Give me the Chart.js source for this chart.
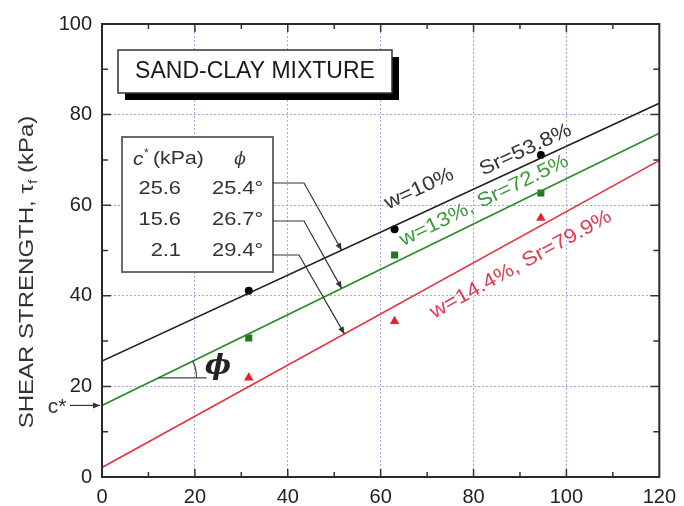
<!DOCTYPE html>
<html><head><meta charset="utf-8">
<script src="https://cdn.jsdelivr.net/npm/chart.js@4"></script>
<style>html,body{margin:0;padding:0;background:#fff;}</style>
</head><body>
<canvas id="c" width="684" height="506"></canvas>
<script>
// ---- data ----
const normalStress = [31.6, 63.0, 94.5];
const tauW10  = [41.1, 54.7, 71.1];
const tauW13  = [30.7, 49.0, 62.7];
const tauW144 = [21.9, 34.4, 57.2];
const fitX    = [0, 120];
const fitW10  = [25.6, 82.5];
const fitW13  = [15.8, 75.9];
const fitW144 = [2.1, 69.9];
const xTickValues = [0, 20, 40, 60, 80, 100, 120];
const yTickValues = [0, 20, 40, 60, 80, 100];
const cohesion = ['25.6', '15.6', '2.1'];
const frictionAngle = ['25.4°', '26.7°', '29.4°'];
const boxTitle = 'SAND-CLAY MIXTURE';
const yTitle = ['SHEAR STRENGTH, τ', 'f', ' (kPa)'];
const seriesLabels = ['w=10%', 'Sr=53.8%', 'w=13%, Sr=72.5%', 'w=14.4%, Sr=79.9%'];

const BLACK = '#1e1e1e', GREEN = '#2a8c2a', RED = '#e8303f';
const FONT = '"Liberation Sans", Arial, sans-serif';
const pts = (xs, ys) => xs.map((x, i) => ({x, y: ys[i]}));

function txt(ctx, s, x, y, o) {
  o = o || {};
  ctx.save();
  ctx.translate(x, y);
  if (o.rot) ctx.rotate(o.rot);
  ctx.scale(o.sx || 1, 1);
  ctx.font = o.font || ('20px ' + FONT);
  ctx.fillStyle = o.color || BLACK;
  ctx.textAlign = o.align || 'center';
  ctx.textBaseline = o.baseline || 'middle';
  ctx.fillText(s, 0, 0);
  ctx.restore();
}
function arrow(ctx, pts, color) {
  ctx.save();
  ctx.strokeStyle = color || '#333'; ctx.fillStyle = color || '#333';
  ctx.lineWidth = 1.2;
  ctx.beginPath();
  ctx.moveTo(pts[0][0], pts[0][1]);
  for (let i = 1; i < pts.length; i++) ctx.lineTo(pts[i][0], pts[i][1]);
  ctx.stroke();
  const a = pts[pts.length - 2], b = pts[pts.length - 1];
  const ang = Math.atan2(b[1] - a[1], b[0] - a[0]);
  const L = 7, W = 3;
  ctx.beginPath();
  ctx.moveTo(b[0], b[1]);
  ctx.lineTo(b[0] - L * Math.cos(ang) + W * Math.sin(ang), b[1] - L * Math.sin(ang) - W * Math.cos(ang));
  ctx.lineTo(b[0] - L * Math.cos(ang) - W * Math.sin(ang), b[1] - L * Math.sin(ang) + W * Math.cos(ang));
  ctx.closePath(); ctx.fill();
  ctx.restore();
}

const deco = {
  id: 'deco',
  afterDraw(chart) {
    const ctx = chart.ctx, xs = chart.scales.x, ys = chart.scales.y, a = chart.chartArea;
    const X = v => xs.getPixelForValue(v), Y = v => ys.getPixelForValue(v);
    ctx.save();
    // inward ticks on all four sides
    ctx.strokeStyle = '#333'; ctx.lineWidth = 1.5;
    for (let v = 10; v < 120; v += 10) {
      const L = v % 20 === 0 ? 8 : 5, px = X(v);
      ctx.beginPath();
      ctx.moveTo(px, a.bottom); ctx.lineTo(px, a.bottom - L);
      ctx.moveTo(px, a.top); ctx.lineTo(px, a.top + L);
      ctx.stroke();
    }
    for (let v = 10; v < 100; v += 10) {
      const L = v % 20 === 0 ? 9 : 6, py = Y(v);
      ctx.beginPath();
      ctx.moveTo(a.left, py); ctx.lineTo(a.left + L, py);
      ctx.moveTo(a.right, py); ctx.lineTo(a.right - L, py);
      ctx.stroke();
    }
    // frame
    ctx.lineWidth = 2; ctx.strokeStyle = '#2a2a2a';
    ctx.strokeRect(a.left, a.top, a.right - a.left, a.bottom - a.top);

    // title box with shadow
    ctx.fillStyle = '#000';
    ctx.fillRect(125, 57, 274, 43);
    ctx.fillStyle = '#fff';
    ctx.fillRect(118, 50, 274, 43);
    ctx.lineWidth = 1.5; ctx.strokeStyle = '#333';
    ctx.strokeRect(118, 50, 274, 43);
    txt(ctx, boxTitle, 255, 72, {font: '23px ' + FONT, color: '#1a1a1a'});

    // parameter table
    ctx.fillStyle = '#fff';
    ctx.fillRect(122, 137, 151, 135);
    ctx.lineWidth = 2; ctx.strokeStyle = '#6a6a6a';
    ctx.strokeRect(122, 137, 151, 135);
    txt(ctx, 'c', 133, 160, {font: 'italic 19px ' + FONT, align: 'left', sx: 1.1, color: '#333'});
    txt(ctx, '*', 144, 154, {font: '12px ' + FONT, align: 'left', color: '#333'});
    txt(ctx, '(kPa)', 153, 159, {font: '19px ' + FONT, align: 'left', sx: 1.12, color: '#333'});
    txt(ctx, 'ϕ', 240, 160, {font: 'italic 17px "DejaVu Serif", serif', color: '#333'});
    const rowY = [189, 220, 251];
    rowY.forEach((ry, i) => {
      txt(ctx, cohesion[i], 181, ry, {font: '19px ' + FONT, align: 'right', sx: 1.15, color: '#333'});
      txt(ctx, frictionAngle[i], 212, ry, {font: '19px ' + FONT, align: 'left', sx: 1.15, color: '#333'});
    });

    // arrows from table to fit lines
    arrow(ctx, [[273, 183], [304, 183], [X(51.6), Y(fitW10[0] + (fitW10[1] - fitW10[0]) * 51.6 / 120)]]);
    arrow(ctx, [[273, 221], [304, 221], [X(51.6), Y(fitW13[0] + (fitW13[1] - fitW13[0]) * 51.6 / 120)]]);
    arrow(ctx, [[273, 255], [299, 255], [X(52.2), Y(fitW144[0] + (fitW144[1] - fitW144[0]) * 52.2 / 120)]]);

    // phi angle marker on the green line
    const yA = 21.9;
    const xA = (yA - fitW13[0]) / ((fitW13[1] - fitW13[0]) / 120);
    const p0x = X(xA), p0y = Y(yA);
    ctx.strokeStyle = '#444'; ctx.lineWidth = 1.2;
    ctx.beginPath(); ctx.moveTo(p0x, p0y); ctx.lineTo(X(22.5), p0y); ctx.stroke();
    const angG = Math.atan2(Y(fitW13[1]) - Y(fitW13[0]), X(120) - X(0));
    ctx.beginPath(); ctx.arc(p0x, p0y, 38, angG, 0); ctx.stroke();
    txt(ctx, 'ϕ', 218, 367, {font: 'italic bold 28px "DejaVu Serif", serif', color: '#222'});

    // c* marker at the left axis
    txt(ctx, 'c*', 57, 407, {font: '20px ' + FONT, color: '#333', sx: 1.05});
    arrow(ctx, [[70, Y(fitW13[0])], [a.left - 2, Y(fitW13[0])]], '#333');

    // rotated series labels
    const ang = (f) => Math.atan2(Y(f[1]) - Y(f[0]), X(120) - X(0));
    const lf = '20px ' + FONT;
    txt(ctx, seriesLabels[0], X(68.3), Y(63.6), {font: lf, rot: ang(fitW10), sx: 1.12, color: '#333'});
    txt(ctx, seriesLabels[1], X(91.2), Y(72.2), {font: lf, rot: ang(fitW10), sx: 1.12, color: '#333'});
    txt(ctx, seriesLabels[2], X(82.3), Y(61.0), {font: lf, rot: ang(fitW13), sx: 1.12, color: '#3a9a3a'});
    txt(ctx, seriesLabels[3], X(90.2), Y(46.9), {font: lf, rot: ang(fitW144), sx: 1.12, color: '#e03a50'});

    // y-axis title with subscript
    ctx.save();
    ctx.translate(27, 272); ctx.rotate(-Math.PI / 2); ctx.scale(1.2, 1);
    ctx.fillStyle = '#333'; ctx.textBaseline = 'middle'; ctx.textAlign = 'left';
    ctx.font = '20px ' + FONT; const w0 = ctx.measureText(yTitle[0]).width;
    ctx.font = '13px ' + FONT; const w1 = ctx.measureText(yTitle[1]).width;
    ctx.font = '20px ' + FONT; const w2 = ctx.measureText(yTitle[2]).width;
    let sx0 = -(w0 + w1 + w2) / 2;
    ctx.fillText(yTitle[0], sx0, 0);
    ctx.font = '13px ' + FONT; ctx.fillText(yTitle[1], sx0 + w0, 6);
    ctx.font = '20px ' + FONT; ctx.fillText(yTitle[2], sx0 + w0 + w1, 0);
    ctx.restore();
    ctx.restore();
  }
};

const gridColor = (ctx, max) => (ctx.tick && (ctx.tick.value === 0 || ctx.tick.value === max)) ? 'rgba(0,0,0,0)' : 'rgba(150,150,215,0.85)';

new Chart(document.getElementById('c'), {
  type: 'scatter',
  data: {
    datasets: [
      {data: pts(fitX, fitW10), showLine: true, borderColor: BLACK, borderWidth: 1.6, pointRadius: 0},
      {data: pts(fitX, fitW13), showLine: true, borderColor: GREEN, borderWidth: 1.6, pointRadius: 0},
      {data: pts(fitX, fitW144), showLine: true, borderColor: RED, borderWidth: 1.6, pointRadius: 0},
      {data: pts(normalStress, tauW10), pointStyle: 'circle', pointRadius: 4, backgroundColor: '#000', borderColor: '#000', borderWidth: 0},
      {data: pts(normalStress, tauW13), pointStyle: 'rect', pointRadius: 5, backgroundColor: '#1f7a1f', borderColor: '#1f7a1f', borderWidth: 0},
      {data: pts(normalStress, tauW144), pointStyle: 'triangle', pointRadius: 5.5, backgroundColor: '#e8202e', borderColor: '#e8202e', borderWidth: 0}
    ]
  },
  options: {
    responsive: false,
    animation: false,
    events: [],
    layout: {padding: {top: 24, right: 21, left: 0, bottom: 0}},
    plugins: {legend: {display: false}, tooltip: {enabled: false}},
    scales: {
      x: {
        type: 'linear', min: 0, max: 120,
        afterBuildTicks: s => { s.ticks = xTickValues.map(v => ({value: v})); },
        afterFit: s => { s.height = 29; },
        ticks: {font: {family: FONT, size: 20}, color: '#222', padding: 8, maxRotation: 0},
        grid: {color: c => gridColor(c, 120), lineWidth: 1, drawTicks: false},
        border: {display: false, dash: [2, 2]}
      },
      y: {
        type: 'linear', min: 0, max: 100,
        afterBuildTicks: s => { s.ticks = yTickValues.map(v => ({value: v})); },
        afterFit: s => { s.width = 102; },
        ticks: {font: {family: FONT, size: 20}, color: '#222', padding: 10},
        grid: {color: c => gridColor(c, 100), lineWidth: 1, drawTicks: false},
        border: {display: false, dash: [2, 2]}
      }
    }
  },
  plugins: [deco]
});
</script>
</body></html>
